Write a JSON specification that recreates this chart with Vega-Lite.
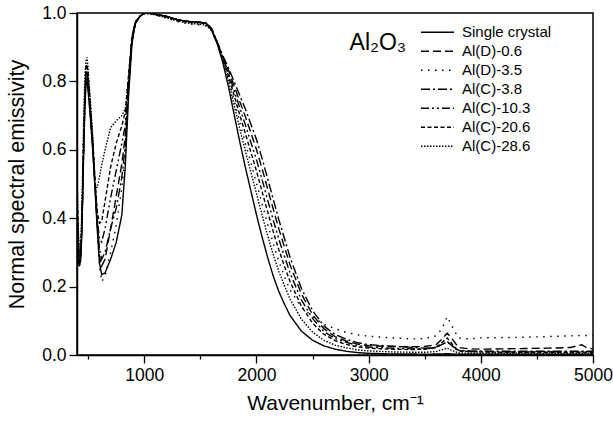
{
  "$schema": "https://vega.github.io/schema/vega-lite/v6.json",
  "width": 516,
  "height": 342,
  "autosize": "none",
  "padding": {"left": 77, "top": 13, "right": 20, "bottom": 69},
  "background": "white",
  "config": {
    "font": "Liberation Sans",
    "view": {"stroke": "#000", "strokeWidth": 1.5},
    "axis": {"domainColor": "#000", "tickColor": "#000", "labelColor": "#000", "titleColor": "#000", "labelFont": "Liberation Sans", "titleFont": "Liberation Sans", "titleFontWeight": "normal", "grid": false, "domainWidth": 1.5, "tickWidth": 1.3, "labelOverlap": false}
  },
  "datasets": {
    "sc": [{"w":400,"e":0.47},{"w":410,"e":0.34},{"w":420,"e":0.27},{"w":430,"e":0.27},{"w":440,"e":0.33},{"w":450,"e":0.45},{"w":460,"e":0.60},{"w":470,"e":0.72},{"w":480,"e":0.79},{"w":490,"e":0.80},{"w":500,"e":0.77},{"w":520,"e":0.69},{"w":540,"e":0.60},{"w":560,"e":0.49},{"w":580,"e":0.37},{"w":600,"e":0.27},{"w":620,"e":0.235},{"w":650,"e":0.24},{"w":700,"e":0.28},{"w":750,"e":0.33},{"w":800,"e":0.41},{"w":830,"e":0.55},{"w":860,"e":0.76},{"w":890,"e":0.91},{"w":920,"e":0.97},{"w":960,"e":0.99},{"w":1000,"e":1.0},{"w":1050,"e":1.0},{"w":1100,"e":0.997},{"w":1200,"e":0.99},{"w":1300,"e":0.98},{"w":1400,"e":0.975},{"w":1500,"e":0.973},{"w":1550,"e":0.97},{"w":1600,"e":0.95},{"w":1650,"e":0.91},{"w":1700,"e":0.855},{"w":1750,"e":0.785},{"w":1800,"e":0.705},{"w":1850,"e":0.625},{"w":1900,"e":0.55},{"w":1950,"e":0.48},{"w":2000,"e":0.41},{"w":2050,"e":0.345},{"w":2100,"e":0.285},{"w":2150,"e":0.23},{"w":2200,"e":0.185},{"w":2250,"e":0.148},{"w":2300,"e":0.115},{"w":2400,"e":0.07},{"w":2500,"e":0.043},{"w":2600,"e":0.027},{"w":2700,"e":0.017},{"w":2800,"e":0.011},{"w":2900,"e":0.007},{"w":3000,"e":0.005},{"w":3200,"e":0.003},{"w":3400,"e":0.003},{"w":3500,"e":0.002},{"w":3600,"e":0.003},{"w":3650,"e":0.003},{"w":3700,"e":0.004},{"w":3750,"e":0.003},{"w":3800,"e":0.002},{"w":3900,"e":0.002},{"w":4000,"e":0.002},{"w":4200,"e":0.002},{"w":4400,"e":0.002},{"w":4600,"e":0.002},{"w":4800,"e":0.002},{"w":4900,"e":0.002},{"w":4950,"e":0.002},{"w":5000,"e":0.002}],
    "d06": [{"w":400,"e":0.38},{"w":410,"e":0.30},{"w":420,"e":0.26},{"w":430,"e":0.27},{"w":440,"e":0.34},{"w":450,"e":0.47},{"w":460,"e":0.62},{"w":470,"e":0.75},{"w":480,"e":0.82},{"w":490,"e":0.83},{"w":500,"e":0.80},{"w":520,"e":0.71},{"w":540,"e":0.61},{"w":560,"e":0.50},{"w":580,"e":0.38},{"w":600,"e":0.29},{"w":620,"e":0.26},{"w":650,"e":0.28},{"w":700,"e":0.37},{"w":750,"e":0.465},{"w":800,"e":0.56},{"w":830,"e":0.64},{"w":860,"e":0.80},{"w":890,"e":0.925},{"w":920,"e":0.97},{"w":960,"e":0.99},{"w":1000,"e":1.0},{"w":1050,"e":0.999},{"w":1100,"e":0.996},{"w":1200,"e":0.99},{"w":1300,"e":0.98},{"w":1400,"e":0.975},{"w":1500,"e":0.972},{"w":1550,"e":0.97},{"w":1600,"e":0.954},{"w":1650,"e":0.914},{"w":1700,"e":0.872},{"w":1750,"e":0.833},{"w":1800,"e":0.788},{"w":1850,"e":0.742},{"w":1900,"e":0.698},{"w":1950,"e":0.65},{"w":2000,"e":0.601},{"w":2050,"e":0.545},{"w":2100,"e":0.485},{"w":2150,"e":0.426},{"w":2200,"e":0.368},{"w":2250,"e":0.315},{"w":2300,"e":0.263},{"w":2400,"e":0.179},{"w":2500,"e":0.118},{"w":2600,"e":0.077},{"w":2700,"e":0.054},{"w":2800,"e":0.041},{"w":2900,"e":0.032},{"w":3000,"e":0.027},{"w":3200,"e":0.025},{"w":3400,"e":0.024},{"w":3500,"e":0.025},{"w":3600,"e":0.03},{"w":3650,"e":0.045},{"w":3700,"e":0.064},{"w":3750,"e":0.045},{"w":3800,"e":0.022},{"w":3900,"e":0.018},{"w":4000,"e":0.017},{"w":4200,"e":0.018},{"w":4400,"e":0.019},{"w":4600,"e":0.02},{"w":4800,"e":0.022},{"w":4900,"e":0.03},{"w":4950,"e":0.02},{"w":5000,"e":0.018}],
    "d35": [{"w":400,"e":0.42},{"w":410,"e":0.32},{"w":420,"e":0.27},{"w":430,"e":0.28},{"w":440,"e":0.35},{"w":450,"e":0.48},{"w":460,"e":0.64},{"w":470,"e":0.77},{"w":480,"e":0.84},{"w":490,"e":0.85},{"w":500,"e":0.82},{"w":520,"e":0.73},{"w":540,"e":0.63},{"w":560,"e":0.51},{"w":580,"e":0.38},{"w":600,"e":0.26},{"w":620,"e":0.215},{"w":650,"e":0.23},{"w":700,"e":0.30},{"w":750,"e":0.38},{"w":800,"e":0.49},{"w":830,"e":0.58},{"w":860,"e":0.77},{"w":890,"e":0.915},{"w":920,"e":0.97},{"w":960,"e":0.99},{"w":1000,"e":0.998},{"w":1050,"e":0.998},{"w":1100,"e":0.994},{"w":1200,"e":0.985},{"w":1300,"e":0.975},{"w":1400,"e":0.968},{"w":1500,"e":0.965},{"w":1550,"e":0.962},{"w":1600,"e":0.948},{"w":1650,"e":0.91},{"w":1700,"e":0.863},{"w":1750,"e":0.808},{"w":1800,"e":0.745},{"w":1850,"e":0.682},{"w":1900,"e":0.621},{"w":1950,"e":0.562},{"w":2000,"e":0.502},{"w":2050,"e":0.442},{"w":2100,"e":0.382},{"w":2150,"e":0.325},{"w":2200,"e":0.273},{"w":2250,"e":0.229},{"w":2300,"e":0.19},{"w":2400,"e":0.14},{"w":2500,"e":0.112},{"w":2600,"e":0.09},{"w":2700,"e":0.077},{"w":2800,"e":0.066},{"w":2900,"e":0.059},{"w":3000,"e":0.055},{"w":3200,"e":0.05},{"w":3400,"e":0.047},{"w":3500,"e":0.048},{"w":3600,"e":0.056},{"w":3650,"e":0.075},{"w":3700,"e":0.112},{"w":3750,"e":0.08},{"w":3800,"e":0.05},{"w":3900,"e":0.047},{"w":4000,"e":0.05},{"w":4200,"e":0.051},{"w":4400,"e":0.052},{"w":4600,"e":0.054},{"w":4800,"e":0.056},{"w":4900,"e":0.057},{"w":4950,"e":0.057},{"w":5000,"e":0.057}],
    "c38": [{"w":400,"e":0.33},{"w":410,"e":0.28},{"w":420,"e":0.26},{"w":430,"e":0.27},{"w":440,"e":0.34},{"w":450,"e":0.46},{"w":460,"e":0.61},{"w":470,"e":0.73},{"w":480,"e":0.80},{"w":490,"e":0.81},{"w":500,"e":0.78},{"w":520,"e":0.70},{"w":540,"e":0.61},{"w":560,"e":0.50},{"w":580,"e":0.39},{"w":600,"e":0.31},{"w":620,"e":0.28},{"w":650,"e":0.30},{"w":700,"e":0.37},{"w":750,"e":0.43},{"w":800,"e":0.52},{"w":830,"e":0.61},{"w":860,"e":0.79},{"w":890,"e":0.92},{"w":920,"e":0.97},{"w":960,"e":0.99},{"w":1000,"e":1.0},{"w":1050,"e":0.999},{"w":1100,"e":0.996},{"w":1200,"e":0.99},{"w":1300,"e":0.98},{"w":1400,"e":0.975},{"w":1500,"e":0.973},{"w":1550,"e":0.97},{"w":1600,"e":0.955},{"w":1650,"e":0.915},{"w":1700,"e":0.875},{"w":1750,"e":0.84},{"w":1800,"e":0.80},{"w":1850,"e":0.76},{"w":1900,"e":0.72},{"w":1950,"e":0.675},{"w":2000,"e":0.63},{"w":2050,"e":0.575},{"w":2100,"e":0.515},{"w":2150,"e":0.455},{"w":2200,"e":0.395},{"w":2250,"e":0.34},{"w":2300,"e":0.285},{"w":2400,"e":0.195},{"w":2500,"e":0.13},{"w":2600,"e":0.085},{"w":2700,"e":0.06},{"w":2800,"e":0.046},{"w":2900,"e":0.036},{"w":3000,"e":0.03},{"w":3200,"e":0.026},{"w":3400,"e":0.022},{"w":3500,"e":0.02},{"w":3600,"e":0.022},{"w":3650,"e":0.03},{"w":3700,"e":0.038},{"w":3750,"e":0.025},{"w":3800,"e":0.014},{"w":3900,"e":0.012},{"w":4000,"e":0.012},{"w":4200,"e":0.011},{"w":4400,"e":0.011},{"w":4600,"e":0.011},{"w":4800,"e":0.011},{"w":4900,"e":0.011},{"w":4950,"e":0.011},{"w":5000,"e":0.011}],
    "c103": [{"w":400,"e":0.44},{"w":410,"e":0.33},{"w":420,"e":0.28},{"w":430,"e":0.28},{"w":440,"e":0.35},{"w":450,"e":0.47},{"w":460,"e":0.63},{"w":470,"e":0.75},{"w":480,"e":0.82},{"w":490,"e":0.83},{"w":500,"e":0.80},{"w":520,"e":0.71},{"w":540,"e":0.62},{"w":560,"e":0.51},{"w":580,"e":0.40},{"w":600,"e":0.34},{"w":620,"e":0.33},{"w":650,"e":0.37},{"w":700,"e":0.46},{"w":750,"e":0.54},{"w":800,"e":0.62},{"w":830,"e":0.67},{"w":860,"e":0.81},{"w":890,"e":0.93},{"w":920,"e":0.97},{"w":960,"e":0.99},{"w":1000,"e":1.0},{"w":1050,"e":0.999},{"w":1100,"e":0.996},{"w":1200,"e":0.99},{"w":1300,"e":0.98},{"w":1400,"e":0.974},{"w":1500,"e":0.972},{"w":1550,"e":0.97},{"w":1600,"e":0.954},{"w":1650,"e":0.914},{"w":1700,"e":0.87},{"w":1750,"e":0.825},{"w":1800,"e":0.774},{"w":1850,"e":0.724},{"w":1900,"e":0.674},{"w":1950,"e":0.622},{"w":2000,"e":0.571},{"w":2050,"e":0.513},{"w":2100,"e":0.453},{"w":2150,"e":0.394},{"w":2200,"e":0.338},{"w":2250,"e":0.288},{"w":2300,"e":0.239},{"w":2400,"e":0.161},{"w":2500,"e":0.107},{"w":2600,"e":0.069},{"w":2700,"e":0.048},{"w":2800,"e":0.037},{"w":2900,"e":0.028},{"w":3000,"e":0.023},{"w":3200,"e":0.02},{"w":3400,"e":0.018},{"w":3500,"e":0.018},{"w":3600,"e":0.022},{"w":3650,"e":0.03},{"w":3700,"e":0.04},{"w":3750,"e":0.025},{"w":3800,"e":0.012},{"w":3900,"e":0.01},{"w":4000,"e":0.01},{"w":4200,"e":0.009},{"w":4400,"e":0.009},{"w":4600,"e":0.009},{"w":4800,"e":0.01},{"w":4900,"e":0.01},{"w":4950,"e":0.01},{"w":5000,"e":0.01}],
    "c206": [{"w":400,"e":0.50},{"w":410,"e":0.36},{"w":420,"e":0.29},{"w":430,"e":0.29},{"w":440,"e":0.36},{"w":450,"e":0.49},{"w":460,"e":0.65},{"w":470,"e":0.77},{"w":480,"e":0.84},{"w":490,"e":0.85},{"w":500,"e":0.81},{"w":520,"e":0.72},{"w":540,"e":0.63},{"w":560,"e":0.52},{"w":580,"e":0.42},{"w":600,"e":0.385},{"w":620,"e":0.39},{"w":650,"e":0.45},{"w":700,"e":0.55},{"w":750,"e":0.62},{"w":800,"e":0.67},{"w":830,"e":0.71},{"w":860,"e":0.82},{"w":890,"e":0.93},{"w":920,"e":0.975},{"w":960,"e":0.99},{"w":1000,"e":1.0},{"w":1050,"e":0.999},{"w":1100,"e":0.996},{"w":1200,"e":0.988},{"w":1300,"e":0.978},{"w":1400,"e":0.973},{"w":1500,"e":0.971},{"w":1550,"e":0.969},{"w":1600,"e":0.953},{"w":1650,"e":0.913},{"w":1700,"e":0.867},{"w":1750,"e":0.817},{"w":1800,"e":0.76},{"w":1850,"e":0.703},{"w":1900,"e":0.649},{"w":1950,"e":0.593},{"w":2000,"e":0.538},{"w":2050,"e":0.478},{"w":2100,"e":0.418},{"w":2150,"e":0.36},{"w":2200,"e":0.307},{"w":2250,"e":0.259},{"w":2300,"e":0.214},{"w":2400,"e":0.143},{"w":2500,"e":0.093},{"w":2600,"e":0.061},{"w":2700,"e":0.042},{"w":2800,"e":0.031},{"w":2900,"e":0.024},{"w":3000,"e":0.02},{"w":3200,"e":0.017},{"w":3400,"e":0.016},{"w":3500,"e":0.017},{"w":3600,"e":0.022},{"w":3650,"e":0.035},{"w":3700,"e":0.05},{"w":3750,"e":0.03},{"w":3800,"e":0.012},{"w":3900,"e":0.01},{"w":4000,"e":0.009},{"w":4200,"e":0.008},{"w":4400,"e":0.008},{"w":4600,"e":0.008},{"w":4800,"e":0.008},{"w":4900,"e":0.008},{"w":4950,"e":0.008},{"w":5000,"e":0.008}],
    "c286": [{"w":400,"e":0.52},{"w":410,"e":0.38},{"w":420,"e":0.31},{"w":430,"e":0.31},{"w":440,"e":0.39},{"w":450,"e":0.53},{"w":460,"e":0.69},{"w":470,"e":0.81},{"w":480,"e":0.86},{"w":490,"e":0.87},{"w":500,"e":0.83},{"w":520,"e":0.74},{"w":540,"e":0.64},{"w":560,"e":0.49},{"w":580,"e":0.49},{"w":600,"e":0.52},{"w":620,"e":0.555},{"w":650,"e":0.60},{"w":700,"e":0.665},{"w":750,"e":0.685},{"w":800,"e":0.70},{"w":830,"e":0.72},{"w":860,"e":0.80},{"w":890,"e":0.92},{"w":920,"e":0.97},{"w":960,"e":0.99},{"w":1000,"e":0.998},{"w":1050,"e":0.998},{"w":1100,"e":0.994},{"w":1200,"e":0.986},{"w":1300,"e":0.976},{"w":1400,"e":0.97},{"w":1500,"e":0.967},{"w":1550,"e":0.964},{"w":1600,"e":0.949},{"w":1650,"e":0.911},{"w":1700,"e":0.861},{"w":1750,"e":0.80},{"w":1800,"e":0.732},{"w":1850,"e":0.663},{"w":1900,"e":0.598},{"w":1950,"e":0.535},{"w":2000,"e":0.472},{"w":2050,"e":0.409},{"w":2100,"e":0.349},{"w":2150,"e":0.293},{"w":2200,"e":0.244},{"w":2250,"e":0.202},{"w":2300,"e":0.163},{"w":2400,"e":0.105},{"w":2500,"e":0.067},{"w":2600,"e":0.043},{"w":2700,"e":0.029},{"w":2800,"e":0.021},{"w":2900,"e":0.015},{"w":3000,"e":0.012},{"w":3200,"e":0.009},{"w":3400,"e":0.008},{"w":3500,"e":0.008},{"w":3600,"e":0.01},{"w":3650,"e":0.015},{"w":3700,"e":0.02},{"w":3750,"e":0.012},{"w":3800,"e":0.006},{"w":3900,"e":0.005},{"w":4000,"e":0.005},{"w":4200,"e":0.005},{"w":4400,"e":0.005},{"w":4600,"e":0.005},{"w":4800,"e":0.005},{"w":4900,"e":0.005},{"w":4950,"e":0.005},{"w":5000,"e":0.005}],
    "label": [{"t": "Al₂O₃"}]
  },
  "layer": [
    {
      "encoding": {
        "x": {
          "field": "w", "type": "quantitative",
          "scale": {"domain": [400, 5000], "nice": false, "zero": false},
          "axis": {
            "title": "Wavenumber, cm⁻¹",
            "values": [500, 1000, 1500, 2000, 2500, 3000, 3500, 4000, 4500, 5000],
            "format": "d",
            "labelExpr": "datum.value % 1000 === 0 ? datum.label : ''",
            "tickSize": {"condition": {"test": "datum.value % 1000 === 0", "value": 8}, "value": 4},
            "labelFontSize": 17.5, "titleFontSize": 21, "labelPadding": 3, "titlePadding": 9, "labelFlush": false
          }
        },
        "y": {
          "field": "e", "type": "quantitative",
          "scale": {"domain": [0, 1], "nice": false},
          "axis": {
            "title": "Normal spectral emissivity",
            "values": [0, 0.1, 0.2, 0.3, 0.4, 0.5, 0.6, 0.7, 0.8, 0.9, 1],
            "labelExpr": "round(datum.value * 10) % 2 === 0 ? format(datum.value, '.1f') : ''",
            "tickSize": {"condition": {"test": "round(datum.value * 10) % 2 === 0", "value": 8}, "value": 4},
            "labelFontSize": 17.5, "titleFontSize": 21.5, "labelPadding": 3, "titlePadding": 13, "labelFlush": false
          }
        }
      },
      "layer": [
        {"data": {"name": "sc"}, "mark": {"type": "line", "color": "#000", "strokeWidth": 1.4, "clip": true},
         "encoding": {"strokeDash": {"datum": "Single crystal", "type": "nominal",
           "scale": {"domain": ["Single crystal", "Al(D)-0.6", "Al(D)-3.5", "Al(C)-3.8", "Al(C)-10.3", "Al(C)-20.6", "Al(C)-28.6"],
                     "range": [[1, 0], [8, 4], [1.5, 5.5], [9, 3, 2, 3], [8, 3, 2, 3, 2, 3], [4, 2.5], [1.5, 1.5]]},
           "legend": {"title": null, "orient": "none", "legendX": 343, "legendY": 10, "symbolType": "stroke", "symbolSize": 1089, "symbolStrokeWidth": 1.5, "symbolStrokeColor": "#000", "labelFontSize": 15, "labelColor": "#000", "labelFont": "Liberation Sans", "labelOffset": 7, "clipHeight": 18.5, "rowPadding": 0}}}},
        {"data": {"name": "d06"}, "mark": {"type": "line", "color": "#000", "strokeWidth": 1.4, "clip": true}, "encoding": {"strokeDash": {"datum": "Al(D)-0.6", "type": "nominal"}}},
        {"data": {"name": "d35"}, "mark": {"type": "line", "color": "#000", "strokeWidth": 1.4, "clip": true}, "encoding": {"strokeDash": {"datum": "Al(D)-3.5", "type": "nominal"}}},
        {"data": {"name": "c38"}, "mark": {"type": "line", "color": "#000", "strokeWidth": 1.4, "clip": true}, "encoding": {"strokeDash": {"datum": "Al(C)-3.8", "type": "nominal"}}},
        {"data": {"name": "c103"}, "mark": {"type": "line", "color": "#000", "strokeWidth": 1.4, "clip": true}, "encoding": {"strokeDash": {"datum": "Al(C)-10.3", "type": "nominal"}}},
        {"data": {"name": "c206"}, "mark": {"type": "line", "color": "#000", "strokeWidth": 1.4, "clip": true}, "encoding": {"strokeDash": {"datum": "Al(C)-20.6", "type": "nominal"}}},
        {"data": {"name": "c286"}, "mark": {"type": "line", "color": "#000", "strokeWidth": 1.4, "clip": true}, "encoding": {"strokeDash": {"datum": "Al(C)-28.6", "type": "nominal"}}}
      ]
    },
    {"data": {"name": "label"}, "mark": {"type": "text", "align": "left", "baseline": "alphabetic", "fontSize": 23, "font": "Liberation Sans", "color": "#000"},
     "encoding": {"x": {"datum": 2830, "type": "quantitative"}, "y": {"datum": 0.893, "type": "quantitative"}, "text": {"field": "t", "type": "nominal"}}}
  ]
}
